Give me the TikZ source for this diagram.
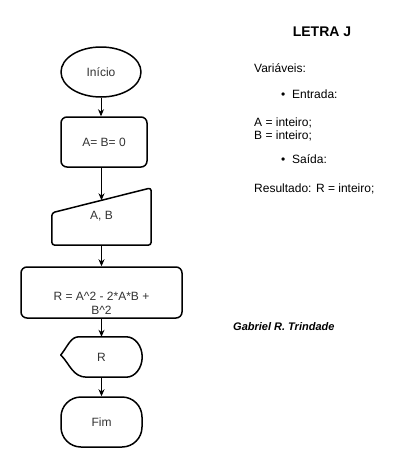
\documentclass[tikz,border=0pt]{standalone}
\usepackage{fontspec}
\setmainfont{Liberation Sans}
\usetikzlibrary{shapes.geometric, arrows.meta, positioning, calc}

\begin{document}
\begin{tikzpicture}[x=1pt, y=-1pt,
  every node/.style={font=\fontsize{12}{14}\selectfont},
  shapetext/.style={text=black!80},
  flowline/.style={line width=1.5pt, line join=round},
  arr/.style={-{Stealth[length=7pt,width=6pt]}, line width=0.9pt},
  infotext/.style={anchor=base west, inner sep=0pt}]
\useasboundingbox (0,0) rectangle (402,469);

% flowchart
\node[ellipse, draw, flowline, minimum width=80pt, minimum height=50pt, shapetext] (inicio) at (101,72) {Início};
\node[rectangle, rounded corners=6pt, draw, flowline, minimum width=86pt, minimum height=50pt, shapetext] (init) at (104,142) {A= B= 0};

\node[minimum width=99pt, minimum height=57pt, inner sep=0pt, shapetext] (leitura) at (101.5,216.5) {A, B};
\coordinate (leitura-tl) at ($(leitura.north west)+(0,25)$);
\draw[flowline, rounded corners=3pt] (leitura.south west) -- (leitura.south east) -- (leitura.north east) -- (leitura-tl) -- cycle;
\coordinate (leitura-in) at ($(leitura-tl)!0.5!(leitura.north east)$);

\node[rectangle, rounded corners=6pt, draw, flowline, minimum width=161pt, minimum height=51pt] (calc) at (101.5,292.5) {};
\node[align=center, inner sep=0pt, shapetext] (calctext) at (101.5,303) {R = A\textasciicircum 2 - 2*A*B +\\B\textasciicircum 2};

\node[minimum width=81pt, minimum height=40pt, inner sep=0pt, shapetext] (saida) at (101.5,357) {R};
\draw[flowline] ($(saida.north west)+(18,0)$) -- ($(saida.north east)+(-16,0)$)
  .. controls +(8.8,0) and +(0,-11) .. (saida.east)
  .. controls +(0,11) and +(8.8,0) .. ($(saida.south east)+(-16,0)$)
  -- ($(saida.south west)+(26,0)$)
  .. controls +(-14,0) and +(9,9) .. ($(saida.west)+(0,-2)$)
  .. controls +(7,-9) and +(-8,0) .. cycle;

\node[rectangle, rounded corners=20pt, draw, flowline, minimum width=81pt, minimum height=50pt, shapetext] (fim) at (101.5,422) {Fim};

\draw[arr] (inicio.south) -- (inicio.south |- init.north);
\draw[arr] (init.south -| leitura-in) -- (leitura-in);
\draw[arr] (leitura.south) -- (calc.north);
\draw[arr] (calc.south) -- (saida.north);
\draw[arr] (saida.south) -- (fim.north);

% variables
\node[font=\bfseries\fontsize{14}{16}\selectfont] (titulo) at (322,32) {LETRA J};
\node[infotext] (variaveis) at (254,72) {Variáveis:};
\node[infotext] (bul1) at (281,98) {•};
\node[infotext] (entrada) at (292,98) {Entrada:};
\node[infotext] (tipoa) at (254,126) {A = inteiro;};
\node[infotext] (tipob) at (254,139) {B = inteiro;};
\node[infotext] (bul2) at (281,163) {•};
\node[infotext] (saidatit) at (292,163) {Saída:};
\node[infotext] (resultado) at (254,192) {Resultado: R = inteiro;};
\node[infotext, font=\bfseries\itshape\fontsize{11}{13}\selectfont] (autor) at (233,330) {Gabriel R. Trindade};
\end{tikzpicture}
\end{document}
